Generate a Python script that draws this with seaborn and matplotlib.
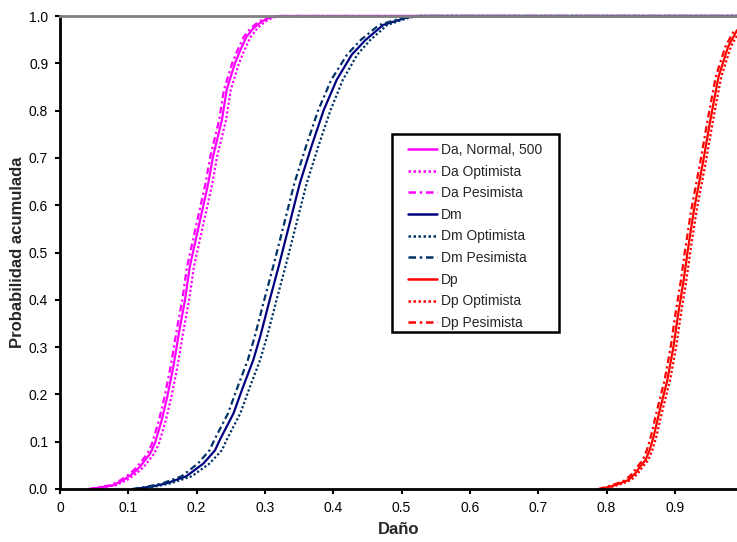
import seaborn as sns
import pandas as pd
import matplotlib.pyplot as plt
from matplotlib.colors import to_hex
from matplotlib.patches import Rectangle

# cumulative probability levels and damage values
da_p = [0.0, 0.008, 0.019, 0.033, 0.047, 0.075, 0.097, 0.146, 0.195, 0.259, 0.329, 0.400, 0.470,
        0.555, 0.646, 0.703, 0.780, 0.844, 0.900, 0.928, 0.956, 0.974, 0.988, 0.997, 1.0, 1.0]
da_normal = [0.045, 0.078, 0.093, 0.107, 0.117, 0.132, 0.139, 0.149, 0.157, 0.166, 0.174, 0.183, 0.190,
             0.203, 0.217, 0.224, 0.237, 0.244, 0.256, 0.264, 0.273, 0.283, 0.295, 0.307, 0.322, 0.991]
da_optimista = [0.048, 0.082, 0.098, 0.112, 0.123, 0.138, 0.145, 0.155, 0.163, 0.172, 0.180, 0.189, 0.196,
                0.209, 0.223, 0.230, 0.243, 0.250, 0.262, 0.270, 0.279, 0.289, 0.300, 0.312, 0.327, 0.991]
da_pesimista = [0.042, 0.074, 0.089, 0.103, 0.113, 0.128, 0.135, 0.145, 0.153, 0.162, 0.170, 0.179, 0.186,
                0.199, 0.213, 0.220, 0.233, 0.240, 0.252, 0.260, 0.269, 0.279, 0.291, 0.303, 0.318, 0.991]

dm_p = [0.0, 0.006, 0.012, 0.027, 0.054, 0.082, 0.104, 0.160, 0.216, 0.273, 0.322, 0.400, 0.470,
        0.555, 0.646, 0.724, 0.801, 0.865, 0.918, 0.949, 0.981, 0.997, 1.0, 1.0]
dm_normal = [0.110, 0.137, 0.156, 0.185, 0.210, 0.227, 0.234, 0.254, 0.268, 0.283, 0.293, 0.307, 0.320,
             0.335, 0.351, 0.368, 0.386, 0.405, 0.427, 0.447, 0.473, 0.508, 0.527, 0.991]
dm_optimista = [0.114, 0.142, 0.162, 0.193, 0.219, 0.237, 0.244, 0.264, 0.278, 0.293, 0.303, 0.317, 0.330,
                0.345, 0.361, 0.378, 0.396, 0.414, 0.435, 0.454, 0.479, 0.512, 0.530, 0.991]
dm_pesimista = [0.106, 0.131, 0.150, 0.178, 0.202, 0.219, 0.226, 0.246, 0.260, 0.275, 0.285, 0.299, 0.312,
                0.327, 0.343, 0.360, 0.378, 0.397, 0.420, 0.440, 0.467, 0.503, 0.524, 0.991]

dp_p = [0.0, 0.005, 0.012, 0.019, 0.033, 0.047, 0.061, 0.082, 0.111, 0.167, 0.230, 0.301, 0.371,
        0.442, 0.505, 0.590, 0.689, 0.780, 0.872, 0.935, 0.970]
dp_normal = [0.791, 0.805, 0.820, 0.832, 0.842, 0.849, 0.857, 0.863, 0.869, 0.878, 0.889, 0.898, 0.905,
             0.913, 0.919, 0.928, 0.941, 0.952, 0.964, 0.978, 0.991]
dp_optimista = [0.794, 0.809, 0.824, 0.836, 0.846, 0.853, 0.861, 0.867, 0.873, 0.882, 0.893, 0.902, 0.909,
                0.917, 0.923, 0.932, 0.945, 0.956, 0.968, 0.982, 0.995]
dp_pesimista = [0.788, 0.801, 0.816, 0.828, 0.838, 0.845, 0.853, 0.859, 0.865, 0.874, 0.885, 0.894, 0.901,
                0.909, 0.915, 0.924, 0.937, 0.948, 0.960, 0.974, 0.987]

series_names = ['Da, Normal, 500', 'Da Optimista', 'Da Pesimista',
                'Dm', 'Dm Optimista', 'Dm Pesimista',
                'Dp', 'Dp Optimista', 'Dp Pesimista']
series_x = [da_normal, da_optimista, da_pesimista,
            dm_normal, dm_optimista, dm_pesimista,
            dp_normal, dp_optimista, dp_pesimista]
series_p = [da_p] * 3 + [dm_p] * 3 + [dp_p] * 3

rows = []
for name, xs, ps in zip(series_names, series_x, series_p):
    for x, p in zip(xs, ps):
        rows.append({'serie': name, 'dano': x, 'prob': p})
df = pd.DataFrame(rows)

palette = {'Da, Normal, 500': '#FF00FF', 'Da Optimista': '#FF00FF', 'Da Pesimista': '#FF00FF',
           'Dm': '#000080', 'Dm Optimista': '#003366', 'Dm Pesimista': '#003366',
           'Dp': '#FF0000', 'Dp Optimista': '#FF0000', 'Dp Pesimista': '#FF0000'}
dot = (1, 1)
dashdot = (3, 1.5, 1, 1.5)
dashes = {'Da, Normal, 500': '', 'Da Optimista': dot, 'Da Pesimista': dashdot,
          'Dm': '', 'Dm Optimista': dot, 'Dm Pesimista': dashdot,
          'Dp': '', 'Dp Optimista': dot, 'Dp Pesimista': dashdot}

sns.set_theme(style='white')
plt.rcParams['font.family'] = ['Liberation Sans', 'DejaVu Sans']

fig = plt.figure(figsize=(7.37, 5.42), dpi=100)
ax = fig.add_axes([60 / 737, 53 / 542, 677 / 737, 473 / 542])

sns.lineplot(data=df, x='dano', y='prob', hue='serie', style='serie',
             hue_order=series_names, style_order=series_names,
             palette=palette, dashes=dashes, linewidth=1.6,
             estimator=None, sort=False, ax=ax)

# the curves that reach 1.0 run along the top edge, so don't clip them there
for line in ax.lines:
    if to_hex(line.get_color()).lower() != '#ff0000':
        line.set_clip_on(False)

ax.set_xlim(0, 0.991)
ax.set_ylim(0, 1.0)
ax.set_xticks([0, 0.1, 0.2, 0.3, 0.4, 0.5, 0.6, 0.7, 0.8, 0.9])
ax.set_xticklabels(['0', '0.1', '0.2', '0.3', '0.4', '0.5', '0.6', '0.7', '0.8', '0.9'])
ax.set_yticks([i / 10 for i in range(11)])
ax.set_yticklabels([f'{i / 10:.1f}' for i in range(11)])
ax.tick_params(axis='both', direction='out', length=3.5, width=1.5, color='black',
               labelsize=10, colors='black', left=True, bottom=True, pad=5)
ax.tick_params(axis='x', pad=5)

for side in ['left', 'bottom']:
    ax.spines[side].set_color('black')
    ax.spines[side].set_linewidth(2)
ax.spines['top'].set_color('#808080')
ax.spines['top'].set_linewidth(2)
ax.spines['right'].set_visible(False)

ax.set_xlabel('Daño', fontsize=12, fontweight='bold', labelpad=5)
ax.set_ylabel('Probabilidad acumulada', fontsize=12, fontweight='bold', labelpad=3)

# legend box like Excel's: square black frame with extra side padding
frame = Rectangle((392 / 737, 1 - 332 / 542), 167 / 737, 198 / 542,
                  transform=fig.transFigure, facecolor='white', edgecolor='black',
                  linewidth=1.8, zorder=4, clip_on=False)
ax.add_patch(frame)

handles, labels = ax.get_legend_handles_labels()
for h in handles:
    h.set_linewidth(1.8)
leg = ax.legend(handles, labels, loc='upper left',
                bbox_to_anchor=(401 / 737, 1 - 136 / 542), bbox_transform=fig.transFigure,
                frameon=False, fontsize=10,
                handlelength=2.1, handletextpad=0.3, labelspacing=0.55,
                borderpad=0.5, borderaxespad=0)
leg.set_zorder(5)

fig.savefig('out.png', dpi=100)
